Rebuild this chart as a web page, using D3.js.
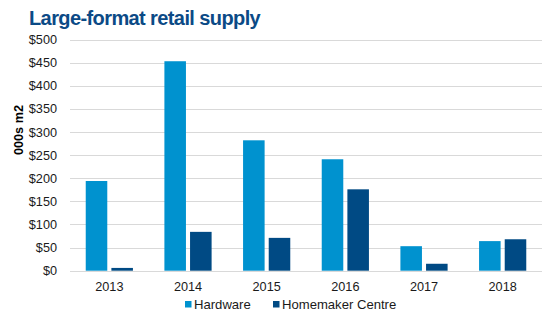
<!DOCTYPE html>
<html>
<head>
<meta charset="utf-8">
<script src="https://cdn.jsdelivr.net/npm/d3@7"></script>
<style>
  html, body { margin: 0; padding: 0; background: #fff; }
  svg { display: block; font-family: "Liberation Sans", Arial, sans-serif; }
</style>
</head>
<body>
<svg id="chart" width="555" height="335"></svg>
<script>
// Annual large-format retail supply, thousands of square metres
const years = ["2013", "2014", "2015", "2016", "2017", "2018"];
const hardware = [194, 453, 282, 241, 53, 64];
const homemaker = [6, 84, 71, 176, 15, 68];
const seriesNames = ["Hardware", "Homemaker Centre"];
const seriesColors = ["#0092cf", "#004a84"];
const yTicks = [0, 50, 100, 150, 200, 250, 300, 350, 400, 450, 500];

const svg = d3.select("#chart");
const margin = { left: 70, right: 13, top: 39.5, bottom: 64.3 };
const W = 555, H = 335;

const x0 = d3.scaleBand()
  .domain(years)
  .range([margin.left, W - margin.right])
  .paddingInner(0.4)
  .paddingOuter(0.2);

const x1 = d3.scaleBand()
  .domain(seriesNames)
  .range([0, x0.bandwidth()])
  .paddingInner(0.16);

const y = d3.scaleLinear()
  .domain([0, 500])
  .range([H - margin.bottom, margin.top]);

// Title
svg.append("text")
  .attr("x", 29)
  .attr("y", 25)
  .attr("fill", "#0b4a86")
  .attr("font-size", 20)
  .attr("font-weight", "bold")
  .attr("letter-spacing", -0.6)
  .text("Large-format retail supply");

// Horizontal gridlines
svg.append("g")
  .selectAll("line")
  .data(yTicks)
  .join("line")
  .attr("x1", margin.left)
  .attr("x2", W - margin.right)
  .attr("y1", d => Math.round(y(d)) + 0.5)
  .attr("y2", d => Math.round(y(d)) + 0.5)
  .attr("stroke", "#d9d9d9")
  .attr("stroke-width", 1);

// Y axis labels
const yAxis = d3.axisLeft(y)
  .tickValues(yTicks)
  .tickFormat(d => "$" + d)
  .tickSize(0)
  .tickPadding(13);
const gy = svg.append("g")
  .attr("transform", `translate(${margin.left},0)`)
  .call(yAxis);
gy.select(".domain").remove();
gy.selectAll("text")
  .attr("font-size", 12.7)
  .attr("font-family", "Liberation Sans, Arial, sans-serif")
  .attr("fill", "#1a1a1a");

// Y axis title
svg.append("text")
  .attr("transform", "translate(23,130) rotate(-90)")
  .attr("text-anchor", "middle")
  .attr("font-size", 12.7)
  .attr("font-weight", "bold")
  .attr("fill", "#000")
  .text("000s m2");

// X axis labels
const xAxis = d3.axisBottom(x0).tickSize(0).tickPadding(11);
const gx = svg.append("g")
  .attr("transform", `translate(0,${H - margin.bottom})`)
  .call(xAxis);
gx.select(".domain").remove();
gx.selectAll("text")
  .attr("font-size", 12.7)
  .attr("font-family", "Liberation Sans, Arial, sans-serif")
  .attr("fill", "#1a1a1a");

// Bars
const rows = years.map((yr, i) => ({ year: yr, values: [hardware[i], homemaker[i]] }));
const groups = svg.append("g")
  .selectAll("g")
  .data(rows)
  .join("g")
  .attr("transform", d => `translate(${x0(d.year)},0)`);

groups.selectAll("rect")
  .data(d => d.values.map((v, j) => ({ key: seriesNames[j], value: v, color: seriesColors[j] })))
  .join("rect")
  .attr("x", d => x1(d.key))
  .attr("width", x1.bandwidth())
  .attr("y", d => y(d.value))
  .attr("height", d => y(0) - y(d.value))
  .attr("fill", d => d.color);

// Legend
const legendX = [185, 273];
const legend = svg.append("g")
  .selectAll("g")
  .data(seriesNames)
  .join("g")
  .attr("transform", (d, i) => `translate(${legendX[i]},301)`);
legend.append("rect")
  .attr("width", 6.5)
  .attr("height", 6.5)
  .attr("fill", (d, i) => seriesColors[i]);
legend.append("text")
  .attr("x", 9)
  .attr("y", 7.5)
  .attr("font-size", 13.1)
  .attr("fill", "#1a1a1a")
  .text(d => d);
</script>
</body>
</html>
